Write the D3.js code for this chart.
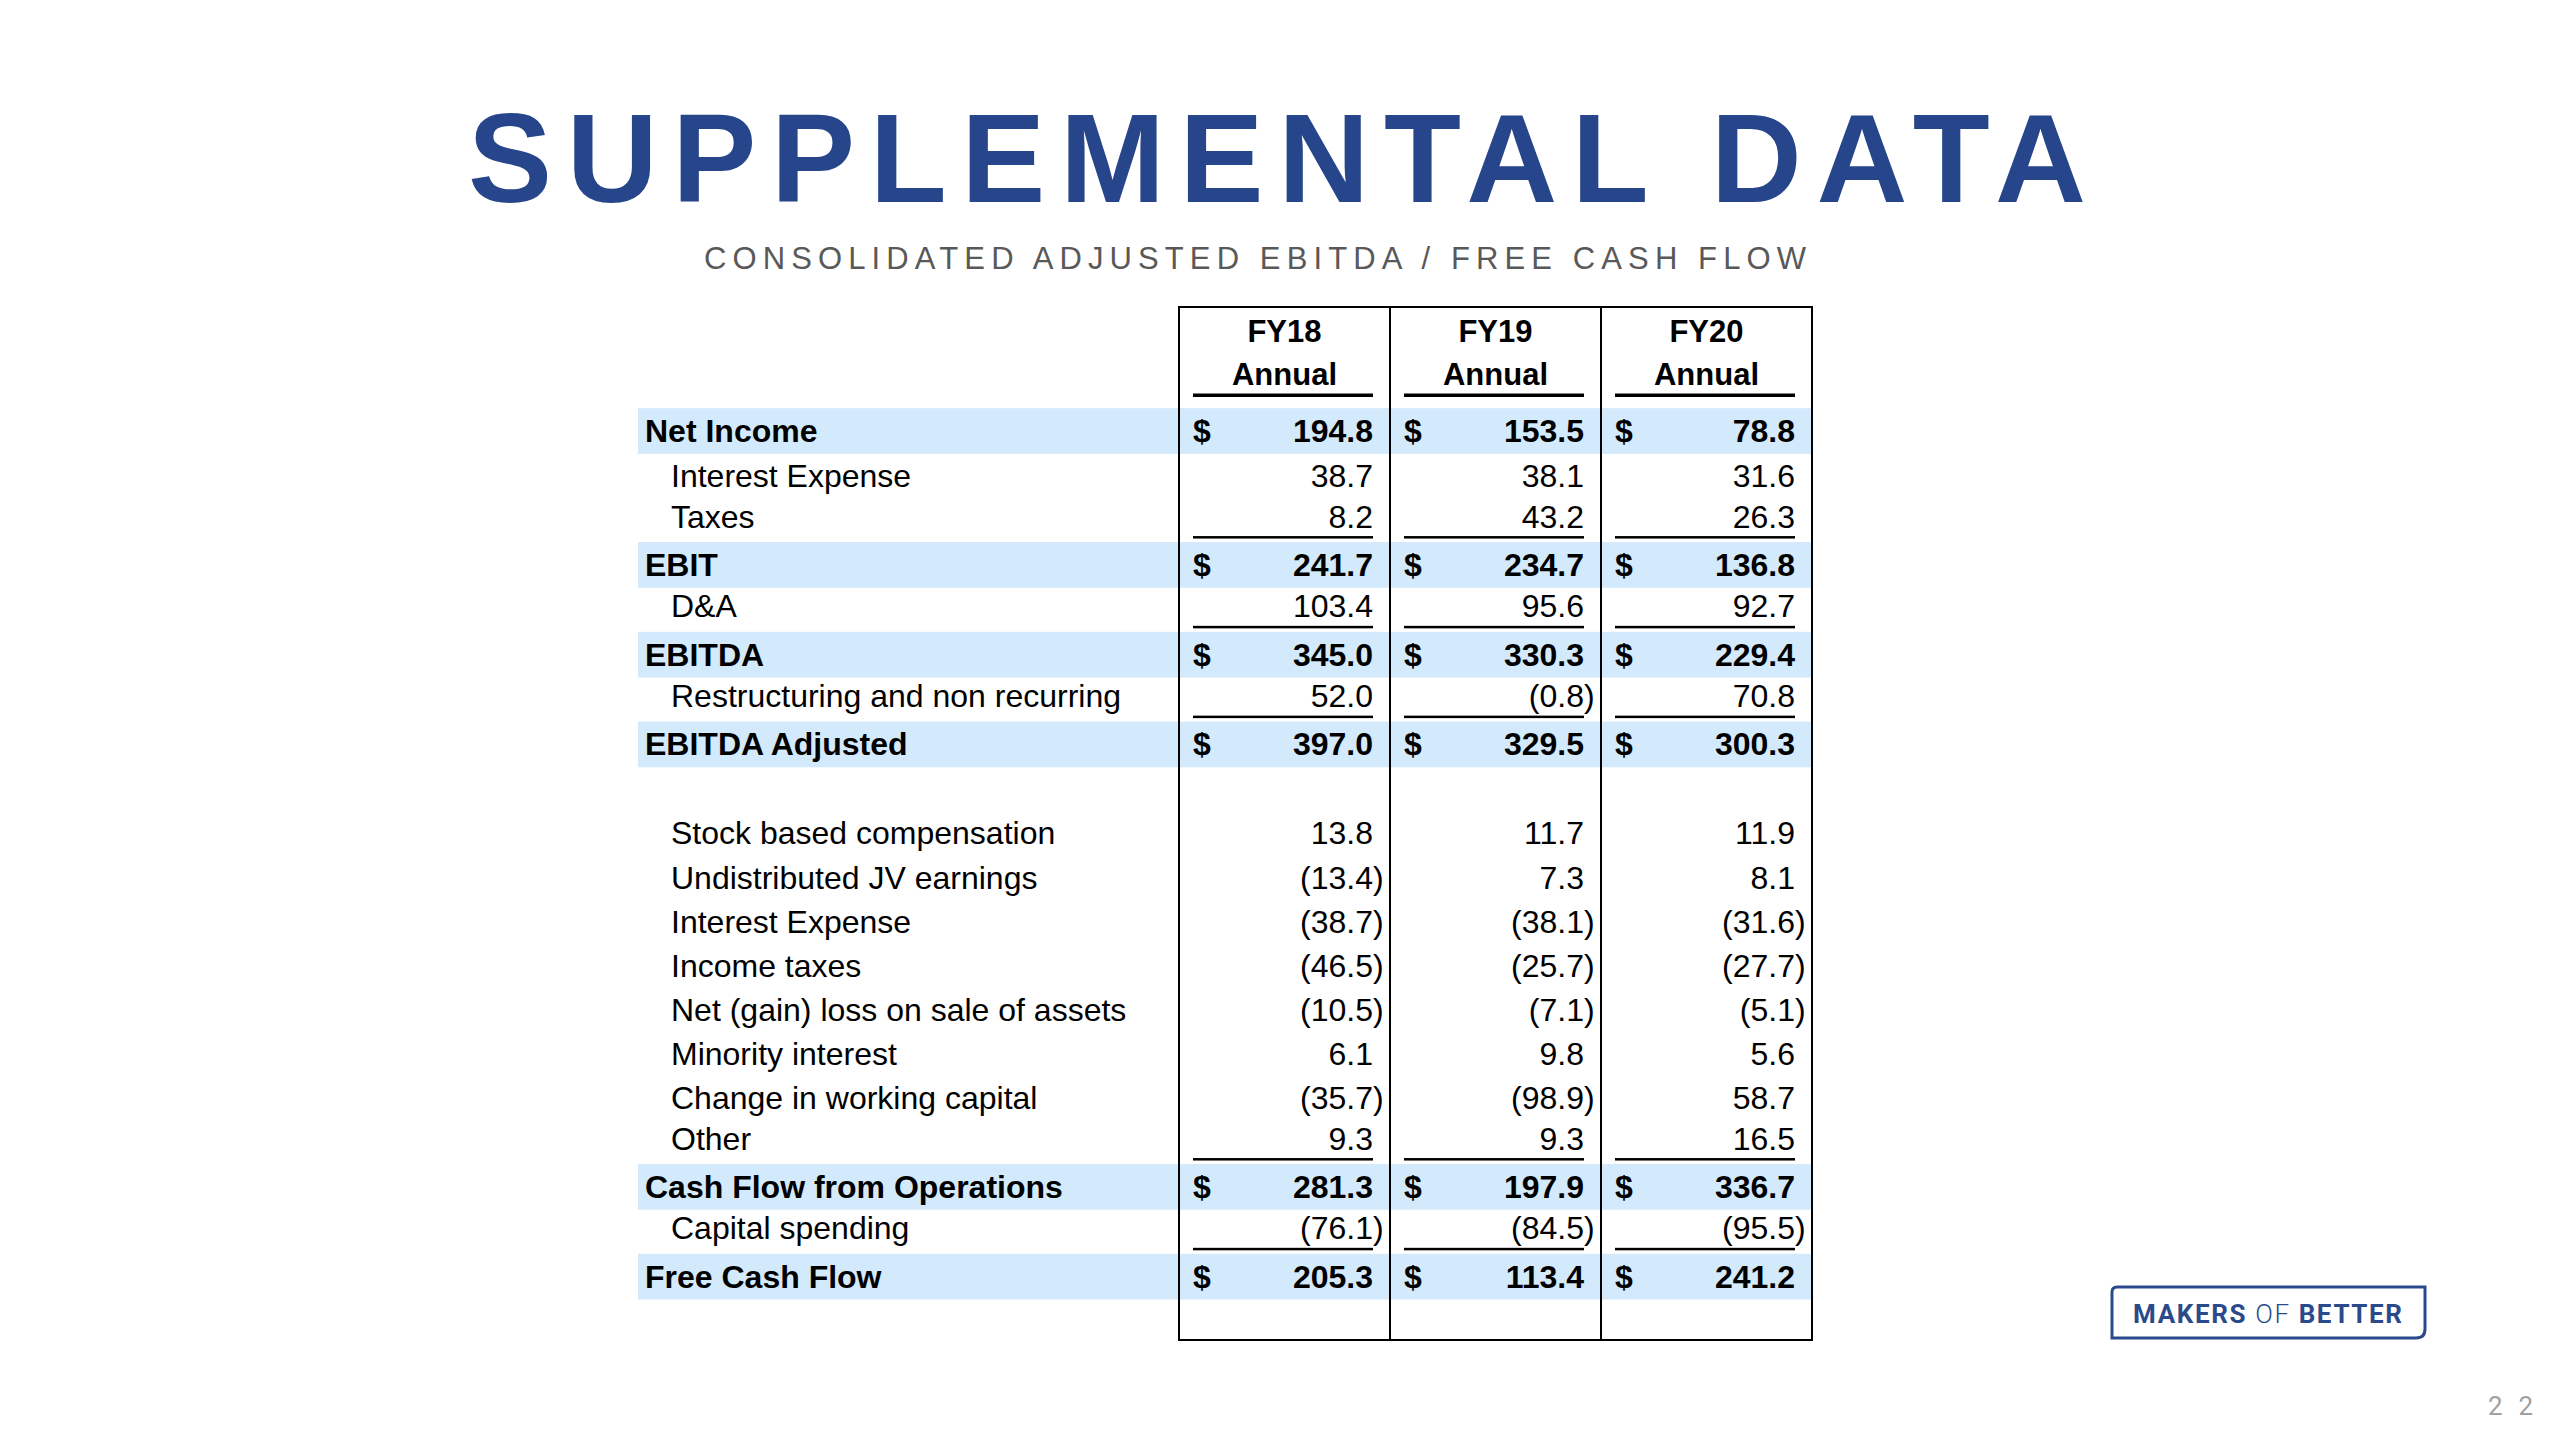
<!DOCTYPE html>
<html>
<head>
<meta charset="utf-8">
<script src="https://cdn.jsdelivr.net/npm/d3@7"></script>
<style>
    html, body { margin: 0; padding: 0; background: #fff; }
    svg { display: block; }
</style>
</head>
<body>
<svg id="chart"></svg>
<script>
// Table data
const columns = ["FY18", "FY19", "FY20"];
const columnSubtitle = "Annual";

const rowLabels = [
    "Net Income",
    "Interest Expense",
    "Taxes",
    "EBIT",
    "D&A",
    "EBITDA",
    "Restructuring and non recurring",
    "EBITDA Adjusted",
    "",
    "Stock based compensation",
    "Undistributed JV earnings",
    "Interest Expense",
    "Income taxes",
    "Net (gain) loss on sale of assets",
    "Minority interest",
    "Change in working capital",
    "Other",
    "Cash Flow from Operations",
    "Capital spending",
    "Free Cash Flow"
];

// total rows are the highlighted subtotal lines, blank is the spacer row
const rowKinds = [
    "total", "item", "item", "total", "item", "total", "item", "total",
    "blank",
    "item", "item", "item", "item", "item", "item", "item", "item",
    "total", "item", "total"
];

const fy18Values = [194.8, 38.7, 8.2, 241.7, 103.4, 345.0, 52.0, 397.0, null, 13.8, -13.4, -38.7, -46.5, -10.5, 6.1, -35.7, 9.3, 281.3, -76.1, 205.3];
const fy19Values = [153.5, 38.1, 43.2, 234.7, 95.6, 330.3, -0.8, 329.5, null, 11.7, 7.3, -38.1, -25.7, -7.1, 9.8, -98.9, 9.3, 197.9, -84.5, 113.4];
const fy20Values = [78.8, 31.6, 26.3, 136.8, 92.7, 229.4, 70.8, 300.3, null, 11.9, 8.1, -31.6, -27.7, -5.1, 5.6, 58.7, 16.5, 336.7, -95.5, 241.2];

const title = "SUPPLEMENTAL DATA";
const subtitle = "CONSOLIDATED ADJUSTED EBITDA / FREE CASH FLOW";
const pageNumber = "22";

const W = 2560;
const H = 1440;
const FONT = "'Liberation Sans', Arial, Helvetica, sans-serif";
const BLUE = "#26458a";
const HIGHLIGHT = "#d3e9fc";

const layout = {
    labelLeft: 638,
    tableLeft: 1179,
    tableRight: 1812,
    tableTop: 307,
    tableBottom: 1340,
    firstRowTop: 408.2,
    cellInset: 14,
    numberRight: 194
};
const rowHeight = { total: 45.7, item: 44.08, blank: 44.08 };

const svg = d3.select("#chart").attr("width", W).attr("height", H);
svg.append("rect").attr("width", W).attr("height", H).attr("fill", "#fff");

// Build the row objects and stack them vertically
const valuesByColumn = [fy18Values, fy19Values, fy20Values];
let cursor = layout.firstRowTop;
const rows = rowLabels.map((label, i) => {
    const h = rowHeight[rowKinds[i]];
    const row = {
        label,
        kind: rowKinds[i],
        values: columns.map((c, j) => ({ column: c, value: valuesByColumn[j][i] })),
        y0: cursor,
        y1: cursor + h
    };
    cursor += h;
    return row;
});
// an item directly above a subtotal gets the single rule under its numbers
rows.forEach((r, i) => {
    r.underline = r.kind === "item" && rows[i + 1] && rows[i + 1].kind === "total";
});

const xScale = d3.scaleBand().domain(columns).range([layout.tableLeft, layout.tableRight]);
// underlined rows sit a little higher so the text clears the rule
const baseline = (r) => (r.y0 + r.y1) / 2 + 11 - (r.underline ? 3.5 : 0);

// Title and subtitle
svg.append("text")
    .attr("x", 468)
    .attr("y", 202)
    .attr("textLength", 1618)
    .attr("lengthAdjust", "spacing")
    .attr("font-family", FONT)
    .attr("font-weight", "bold")
    .attr("font-size", 126)
    .attr("fill", BLUE)
    .text(title);

svg.append("text")
    .attr("x", 704)
    .attr("y", 269)
    .attr("textLength", 1102)
    .attr("lengthAdjust", "spacing")
    .attr("font-family", FONT)
    .attr("font-size", 31)
    .attr("fill", "#595959")
    .text(subtitle);

// Highlight bands for subtotal rows
svg.append("g")
    .attr("class", "highlights")
    .selectAll("rect")
    .data(rows.filter((r) => r.kind === "total"))
    .enter()
    .append("rect")
    .attr("x", layout.labelLeft)
    .attr("y", (d) => d.y0)
    .attr("width", layout.tableRight - layout.labelLeft)
    .attr("height", (d) => d.y1 - d.y0)
    .attr("fill", HIGHLIGHT);

// Table frame and column dividers
const frame = svg.append("g").attr("class", "frame");
frame.append("rect")
    .attr("x", layout.tableLeft)
    .attr("y", layout.tableTop)
    .attr("width", layout.tableRight - layout.tableLeft)
    .attr("height", layout.tableBottom - layout.tableTop)
    .attr("fill", "none")
    .attr("stroke", "#000")
    .attr("stroke-width", 2);
frame.selectAll("line")
    .data(columns.slice(1))
    .enter()
    .append("line")
    .attr("x1", (d) => xScale(d))
    .attr("x2", (d) => xScale(d))
    .attr("y1", layout.tableTop)
    .attr("y2", layout.tableBottom)
    .attr("stroke", "#000")
    .attr("stroke-width", 2);

// Column headers
const header = svg.append("g").attr("class", "header")
    .selectAll("g")
    .data(columns)
    .enter()
    .append("g")
    .attr("transform", (d) => `translate(${xScale(d)},0)`);

header.append("text")
    .attr("x", xScale.bandwidth() / 2)
    .attr("y", 342)
    .attr("text-anchor", "middle")
    .attr("font-family", FONT)
    .attr("font-weight", "bold")
    .attr("font-size", 31)
    .text((d) => d);
header.append("text")
    .attr("x", xScale.bandwidth() / 2)
    .attr("y", 385)
    .attr("text-anchor", "middle")
    .attr("font-family", FONT)
    .attr("font-weight", "bold")
    .attr("font-size", 31)
    .text(columnSubtitle);
header.append("rect")
    .attr("x", layout.cellInset)
    .attr("y", 393.5)
    .attr("width", layout.numberRight - layout.cellInset)
    .attr("height", 3.5)
    .attr("fill", "#000");

// Row labels
svg.append("g")
    .attr("class", "labels")
    .selectAll("text")
    .data(rows.filter((r) => r.kind !== "blank"))
    .enter()
    .append("text")
    .attr("x", (d) => (d.kind === "total" ? 645 : 671))
    .attr("y", baseline)
    .attr("font-family", FONT)
    .attr("font-size", 32)
    .attr("font-weight", (d) => (d.kind === "total" ? "bold" : "normal"))
    .attr("fill", "#000")
    .text((d) => d.label);

// Value cells
const fmt = d3.format(".1f");
const cells = svg.append("g").attr("class", "cells");

rows.filter((r) => r.kind !== "blank").forEach((r) => {
    const weight = r.kind === "total" ? "bold" : "normal";
    const g = cells.selectAll(null)
        .data(r.values)
        .enter()
        .append("g")
        .attr("transform", (d) => `translate(${xScale(d.column)},${baseline(r)})`);

    if (r.kind === "total") {
        g.append("text")
            .attr("x", layout.cellInset)
            .attr("font-family", FONT)
            .attr("font-size", 32)
            .attr("font-weight", weight)
            .text("$");
    }

    g.append("text")
        .attr("x", layout.numberRight)
        .attr("text-anchor", "end")
        .attr("font-family", FONT)
        .attr("font-size", 32)
        .attr("font-weight", weight)
        .text((d) => (d.value < 0 ? `(${fmt(-d.value)}` : fmt(d.value)));

    // closing bracket hangs past the number column
    g.filter((d) => d.value < 0)
        .append("text")
        .attr("x", layout.numberRight)
        .attr("font-family", FONT)
        .attr("font-size", 32)
        .attr("font-weight", weight)
        .text(")");

    if (r.underline) {
        g.append("rect")
            .attr("x", layout.cellInset)
            .attr("y", r.y1 - 6 - baseline(r))
            .attr("width", layout.numberRight - layout.cellInset)
            .attr("height", 2.5)
            .attr("fill", "#000");
    }
});

// Footer logo
const logo = svg.append("g").attr("class", "logo");
const lx0 = 2112, lx1 = 2425, ly0 = 1287, ly1 = 1338;
logo.append("path")
    .attr("d", `M${lx0},${ly1} L${lx0},${ly0 + 5} Q${lx0},${ly0} ${lx0 + 5},${ly0} L${lx1},${ly0} L${lx1},${ly1 - 9} Q${lx1},${ly1} ${lx1 - 9},${ly1} Z`)
    .attr("fill", "none")
    .attr("stroke", "#2b4a8b")
    .attr("stroke-width", 3);
const logoText = logo.append("text")
    .attr("x", 2133)
    .attr("y", 1323)
    .attr("textLength", 269)
    .attr("lengthAdjust", "spacing")
    .attr("font-family", "Roboto, 'Liberation Sans', sans-serif")
    .attr("font-size", 26)
    .attr("fill", "#2b4a8b");
logoText.append("tspan").attr("font-weight", "bold").text("MAKERS ");
logoText.append("tspan").attr("font-weight", 300).text("OF ");
logoText.append("tspan").attr("font-weight", "bold").text("BETTER");

// Page number
svg.append("text")
    .attr("x", 2488)
    .attr("y", 1415)
    .attr("textLength", 45)
    .attr("lengthAdjust", "spacing")
    .attr("font-family", "Roboto, 'Liberation Sans', sans-serif")
    .attr("font-size", 26)
    .attr("fill", "#a0a0a0")
    .text(pageNumber);
</script>
</body>
</html>
